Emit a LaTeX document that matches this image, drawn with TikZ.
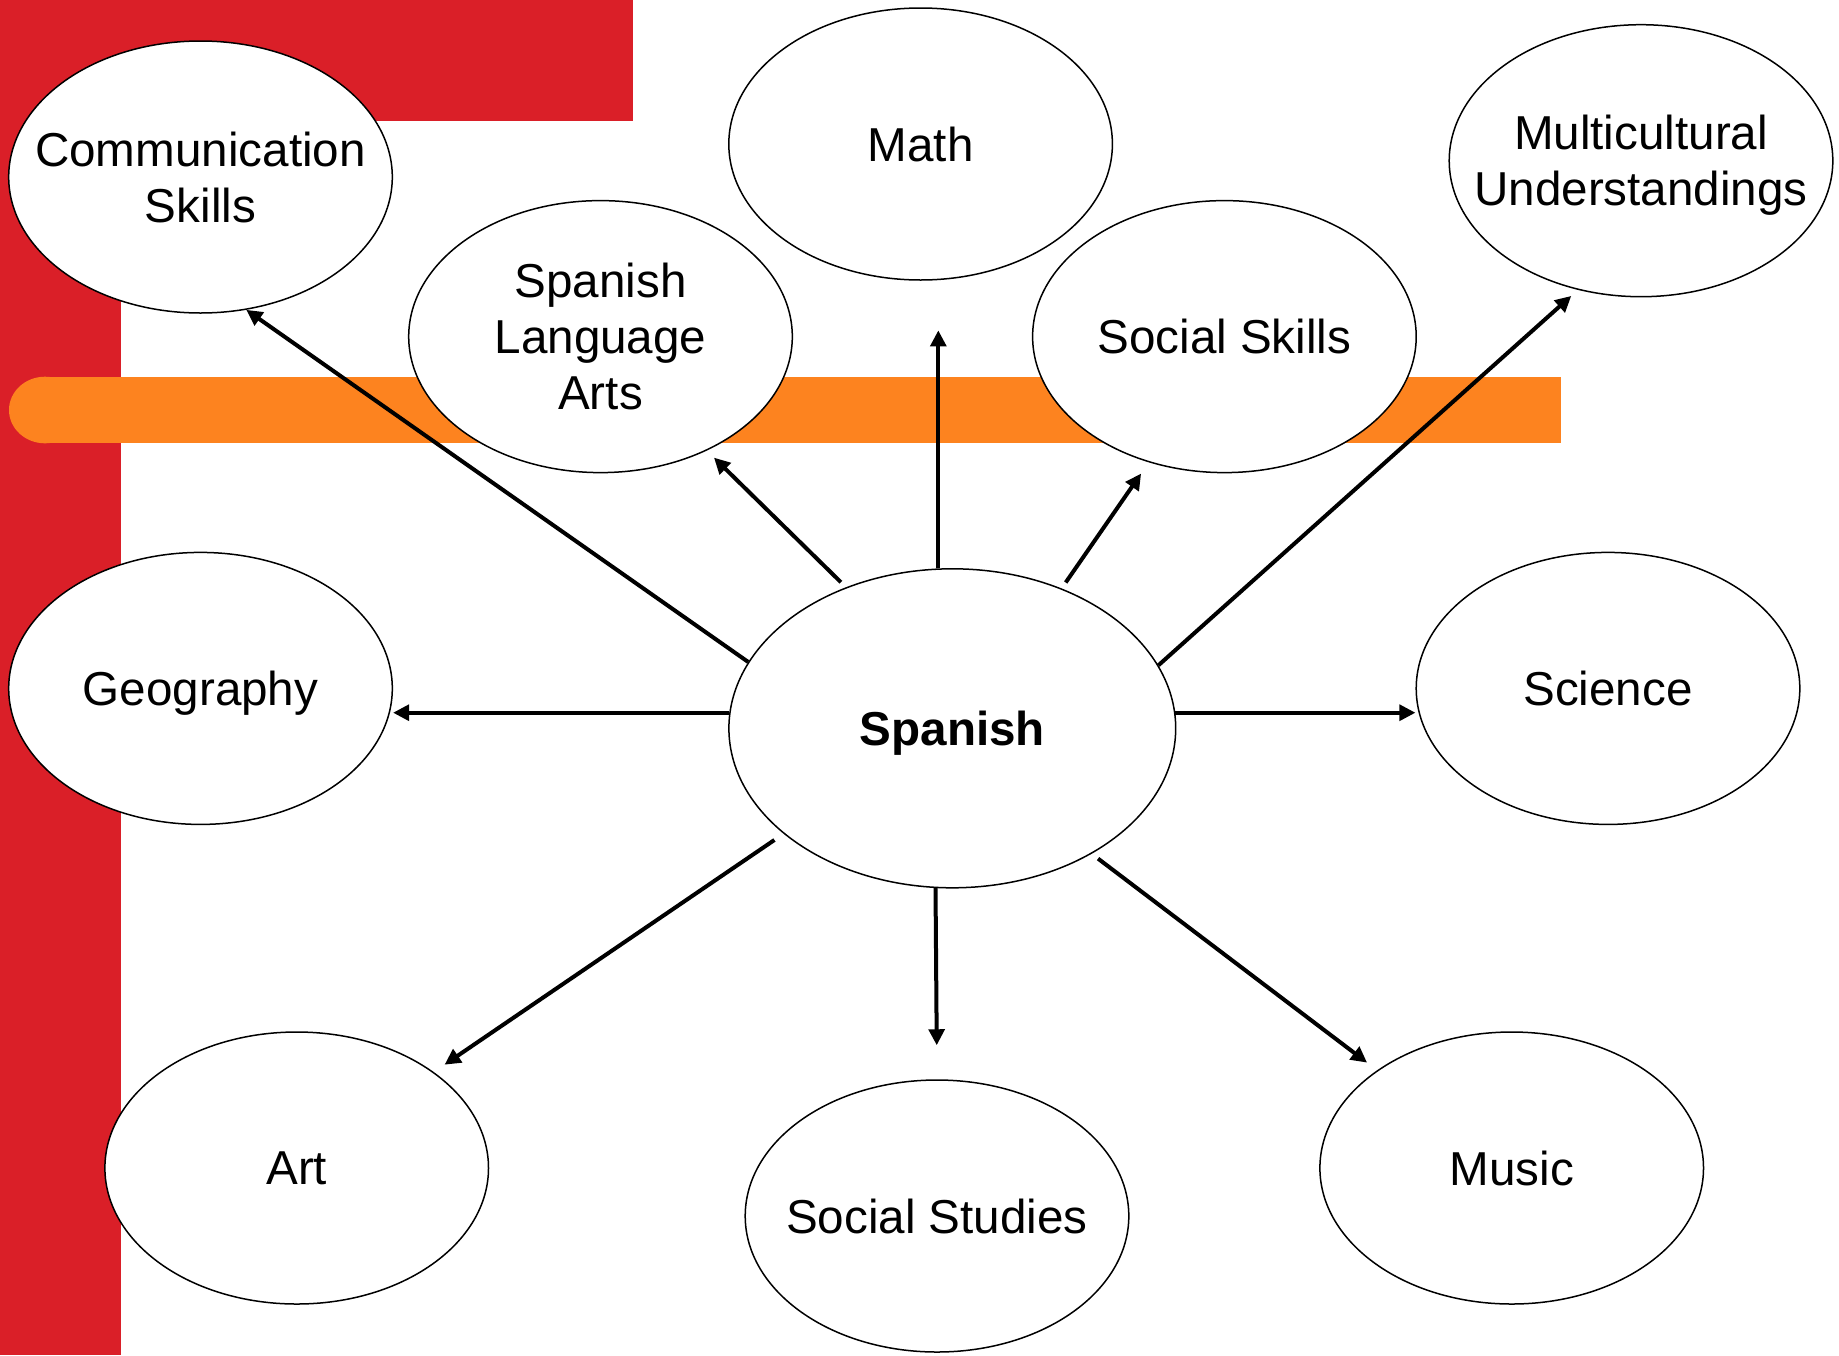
\documentclass[tikz,border=0pt]{standalone}
\usepackage{fontspec}
\setmainfont{Liberation Sans}
\usetikzlibrary{arrows.meta,shapes.geometric}
\definecolor{bannerred}{RGB}{218,31,40}
\definecolor{barorange}{RGB}{253,131,31}
\begin{document}
\begin{tikzpicture}[x=0.5pt,y=-0.5pt,
  topic/.style={ellipse, draw=black, line width=0.75pt, fill=white,
    minimum width=191.8pt, minimum height=136pt, inner sep=-60pt,
    text depth=0pt, align=center, font=\fontsize{23.8}{28}\selectfont},
  hub/.style={topic, minimum width=223.4pt, minimum height=159.5pt,
    font=\fontsize{23.8}{28}\selectfont\bfseries},
  link/.style={line width=2pt, -{Triangle[length=8pt,width=7.8pt]}}]
\useasboundingbox (0,0) rectangle (1839,1355);

% background: red corner band and orange bar
\fill[bannerred] (0,0) rectangle (633,121);
\fill[bannerred] (0,0) rectangle (120.7,1355);
\fill[barorange] (45,410) ellipse [x radius=18pt, y radius=16.65pt];
\fill[barorange] (45,376.7) rectangle (1561,443.3);

% topics
\node[topic] (comm)   at (200.5,177)    {Communication\\Skills};
\node[topic] (math)   at (920.6,144)    {Math};
\node[topic] (multi)  at (1641,160.7)   {Multicultural\\Understandings};
\node[topic] (sla)    at (600.5,336.6)  {Spanish\\Language\\Arts};
\node[topic] (social) at (1224.4,336.6) {Social Skills};
\node[topic] (geo)    at (200.5,688.4)  {Geography};
\node[hub]   (sp)     at (952.3,728.3)  {Spanish};
\node[topic] (sci)    at (1608,688.4)   {Science};
\node[topic] (art)    at (296.7,1168)   {Art};
\node[topic] (sst)    at (937,1216)     {Social Studies};
\node[topic] (music)  at (1511.7,1168)  {Music};

% links from the hub
\draw[link] (sp.162.5) -- (comm.289.8);
\draw[link, shorten <=3.6pt, shorten >=5pt] (sp.127.8) -- (sla.313.3);
\draw[link, shorten >=24.8pt] (sp.95.4) -- (sp.95.4 |- math.south);
\draw[link, shorten <=3.6pt, shorten >=6.8pt] (sp.52.2) -- (social.239.5);
\draw[link, shorten >=4.5pt] (sp.17.2) -- (multi.244.65);
\draw[link] (sp.176.8) -- (sp.176.8 -| geo.east);
\draw[link] (sp.4.2) -- (sp.4.2 -| sci.west);
\draw[link, shorten <=5.5pt, shorten >=6.5pt] (sp.212.6) -- (art.35.65);
\draw[link, shorten >=17pt] (sp.264.6) -- (sst.north);
\draw[link, shorten <=4pt, shorten >=6.3pt] (sp.318.2) -- (music.144.1);
\end{tikzpicture}
\end{document}
